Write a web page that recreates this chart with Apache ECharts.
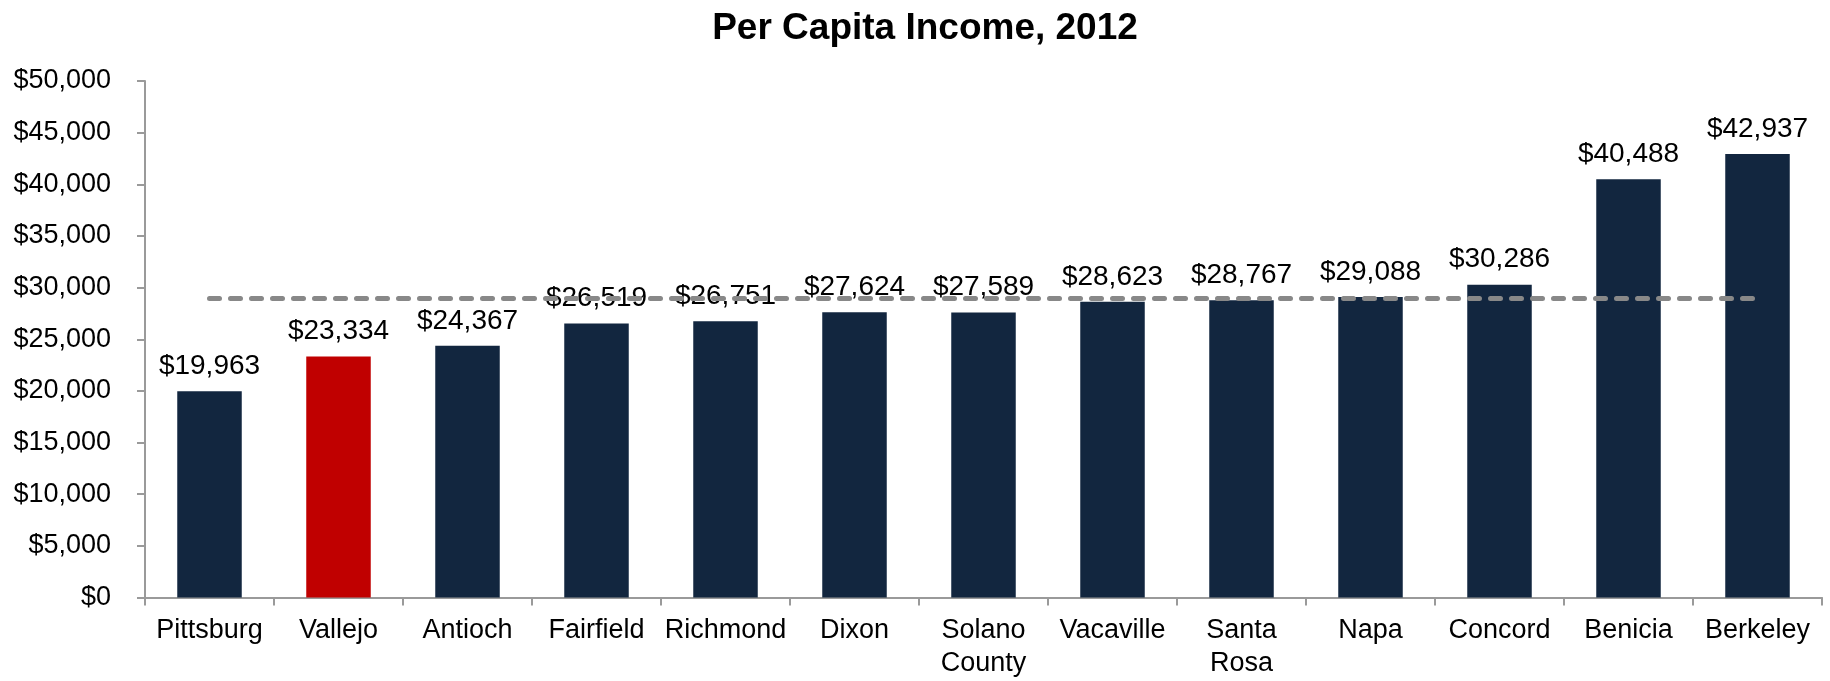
<!DOCTYPE html>
<html>
<head>
<meta charset="utf-8">
<title>Per Capita Income, 2012</title>
<script src="https://cdn.jsdelivr.net/npm/echarts@6/dist/echarts.min.js"></script>
<style>
  html, body { margin: 0; padding: 0; background: #ffffff; }
  #chart { width: 1830px; height: 681px; }
</style>
</head>
<body>
<div id="chart"></div>
<script>
// Per capita income by city, 2012
const categories = ['Pittsburg', 'Vallejo', 'Antioch', 'Fairfield', 'Richmond', 'Dixon',
  'Solano\nCounty', 'Vacaville', 'Santa\nRosa', 'Napa', 'Concord', 'Benicia', 'Berkeley'];
const incomes = [19963, 23334, 24367, 26519, 26751, 27624, 27589, 28623, 28767, 29088, 30286, 40488, 42937];
const averageIncome = 28949;
const highlighted = 'Vallejo';
const yTicks = { min: 0, max: 50000, interval: 5000 };

const NAVY = '#12263F';
const RED = '#C00000';
const AXIS_GRAY = '#9a9a9a';
const FONT = '"Liberation Sans", Arial, Helvetica, sans-serif';

const money = v => '$' + Number(v).toLocaleString('en-US');

const chart = echarts.init(document.getElementById('chart'), null, { renderer: 'canvas' });

chart.setOption({
  animation: false,
  backgroundColor: '#ffffff',
  textStyle: { fontFamily: FONT },
  title: {
    text: 'Per Capita Income, 2012',
    left: 920,
    top: 5,
    textAlign: 'center',
    textStyle: { fontFamily: FONT, fontSize: 37, fontWeight: 'bold', color: '#000' }
  },
  grid: { left: 145, right: 8, top: 81, bottom: 83.5, containLabel: false },
  xAxis: {
    type: 'category',
    data: categories,
    boundaryGap: true,
    axisLine: { lineStyle: { color: AXIS_GRAY, width: 2 } },
    axisTick: { show: true, length: 8, lineStyle: { color: AXIS_GRAY, width: 2 } },
    axisLabel: {
      interval: 0,
      margin: 17,
      fontSize: 27,
      lineHeight: 33,
      color: '#000',
      fontFamily: FONT
    },
    splitLine: { show: false }
  },
  yAxis: {
    type: 'value',
    min: yTicks.min,
    max: yTicks.max,
    interval: yTicks.interval,
    axisLine: { show: true, lineStyle: { color: AXIS_GRAY, width: 2 } },
    axisTick: { show: true, length: 8, lineStyle: { color: AXIS_GRAY, width: 2 } },
    axisLabel: {
      margin: 34,
      fontSize: 27,
      color: '#000',
      fontFamily: FONT,
      formatter: money
    },
    splitLine: { show: false }
  },
  series: [{
    type: 'bar',
    barWidth: '50%',
    data: incomes.map((v, i) => ({
      value: v,
      itemStyle: { color: categories[i] === highlighted ? RED : NAVY }
    })),
    label: {
      show: true,
      position: 'top',
      distance: 11,
      fontSize: 28,
      color: '#000',
      fontFamily: FONT,
      formatter: p => money(p.value)
    },
    markLine: {
      silent: true,
      symbol: 'none',
      label: { show: false },
      lineStyle: { color: '#888888', width: 5, type: [10, 11], cap: 'round' },
      data: [[
        { coord: [categories[0], averageIncome] },
        { coord: [categories[categories.length - 1], averageIncome] }
      ]]
    }
  }]
});
</script>
</body>
</html>
